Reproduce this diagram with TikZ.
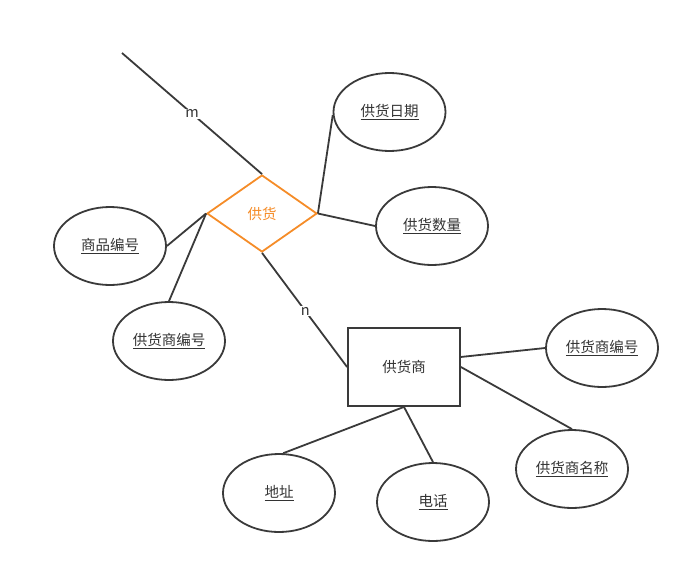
\documentclass[tikz,border=0pt]{standalone}
\definecolor{LineGray}{RGB}{58,58,58}
\definecolor{TextGray}{RGB}{51,51,51}
\definecolor{RelOrange}{RGB}{245,140,40}
\usepackage{fontspec}
\setmainfont{Noto Sans CJK SC}
\usetikzlibrary{shapes.geometric}

\begin{document}
\begin{tikzpicture}[x=1pt,y=-1pt,
      attr/.style={draw=LineGray,ellipse,line width=1.8pt,minimum width=112pt,minimum height=78pt,
                   inner sep=0pt,text=TextGray,font=\fontsize{14.5}{17}\selectfont},
      ent/.style={draw=LineGray,rectangle,line width=1.8pt,minimum width=112pt,minimum height=78pt,
                  inner sep=0pt,text=TextGray,font=\fontsize{14.5}{17}\selectfont},
      rel/.style={draw=RelOrange,diamond,line width=1.8pt,minimum width=110pt,minimum height=77pt,
                  inner sep=0pt,text=RelOrange,font=\fontsize{14.5}{17}\selectfont},
      lnk/.style={draw=LineGray,line width=1.8pt},
      card/.style={fill=white,inner sep=1pt,text=TextGray,font=\fontsize{14.5}{17}\selectfont}]
    \useasboundingbox (0,0) rectangle (692,578);
    % relationship and entity
    \node[rel] (gh)  at (262,213.5) {供货};
    \node[ent] (ghs) at (404,367)   {供货商};
    % attributes
    \node[attr] (rq)   at (389.5,112) {\underline{供货日期}};
    \node[attr] (sl)   at (432,226)   {\underline{供货数量}};
    \node[attr] (spbh) at (110,246)   {\underline{商品编号}};
    \node[attr] (gbhL) at (169,341)   {\underline{供货商编号}};
    \node[attr] (gbhR) at (602,348)   {\underline{供货商编号}};
    \node[attr] (mc)   at (572,469)   {\underline{供货商名称}};
    \node[attr] (dz)   at (279,493)   {\underline{地址}};
    \node[attr] (dh)   at (433,502)   {\underline{电话}};
    \coordinate (mEnd) at (122,53);
    % connectors
    \draw[lnk] (mEnd) -- node[card,pos=0.5] {m} (gh.north);
    \draw[lnk] (gh.south) -- node[card,pos=0.51] {n} (ghs.west);
    \draw[lnk] (gh.east) -- (rq.183);
    \draw[lnk] (gh.east) -- (sl.west);
    \draw[lnk] (gh.west) -- (spbh.east);
    \draw[lnk] (gh.west) -- (gbhL.north);
    \draw[lnk] (ghs.10) -- (gbhR.west);
    \draw[lnk] (ghs.east) -- (mc.north);
    \draw[lnk] (ghs.south) -- (dz.84);
    \draw[lnk] (ghs.south) -- (dh.north);
  \end{tikzpicture}
\end{document}
